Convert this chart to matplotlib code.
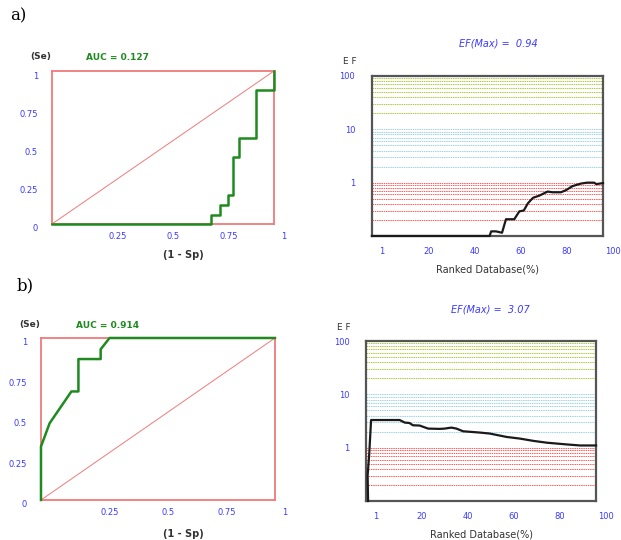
import numpy as np
import matplotlib.pyplot as plt
from matplotlib.transforms import ScaledTranslation

# ROC curve data, panel a
roc_a_x = [0, 0.717, 0.717, 0.755, 0.755, 0.792, 0.792, 0.817, 0.817, 0.842, 0.842, 0.919, 0.919, 1.0, 1.0]
roc_a_y = [0, 0, 0.059, 0.059, 0.126, 0.126, 0.19, 0.19, 0.44, 0.44, 0.565, 0.565, 0.876, 0.876, 1.0]
auc_a = "AUC = 0.127"

# ROC curve data, panel b
roc_b_x = [0, 0, 0.037, 0.13, 0.16, 0.16, 0.255, 0.255, 0.293, 1.0]
roc_b_y = [0, 0.33, 0.474, 0.67, 0.67, 0.87, 0.87, 0.93, 1.0, 1.0]
auc_b = "AUC = 0.914"

# Enrichment factor curves
ef_a_x = [0, 50.9, 51.6, 53.7, 56.3, 58.0, 61.6, 63.8, 65.7, 67.5, 69.7, 72.4, 76.0, 78.2, 81.8,
          83.9, 86.8, 90.4, 93.2, 96.1, 97.1, 100]
ef_a_y = [0.1, 0.1, 0.122, 0.122, 0.115, 0.206, 0.206, 0.29, 0.30, 0.41, 0.52, 0.57, 0.68, 0.66, 0.66,
          0.72, 0.86, 0.96, 1.0, 1.0, 0.94, 0.98]
ef_a_max = "EF(Max) =  0.94"

ef_b_x = [0.9, 0.7, 1.4, 2.2, 14.6, 16.8, 18.9, 20.4, 23.3, 27.0, 32.1, 34.2, 37.1, 39.3, 42.2,
          49.5, 53.8, 61.1, 66.9, 72.8, 78.6, 87.3, 93.1, 100]
ef_b_y = [0.1, 0.30, 0.77, 3.3, 3.3, 2.96, 2.9, 2.63, 2.6, 2.28, 2.25, 2.28, 2.38, 2.28, 2.03,
          1.92, 1.84, 1.59, 1.48, 1.34, 1.24, 1.15, 1.1, 1.1]
ef_b_max = "EF(Max) =  3.07"

roc_ticks = [0.25, 0.5, 0.75, 1]
roc_tick_labels = ["0.25", "0.5", "0.75", "1"]
roc_yticks = [0, 0.25, 0.5, 0.75, 1]
roc_ytick_labels = ["0", "0.25", "0.5", "0.75", "1"]
ef_xticks = [0, 20, 40, 60, 80, 100]
ef_xtick_labels = ["1", "20", "40", "60", "80", "100"]
ef_yticks = [1, 10, 100]
ef_ytick_labels = ["1", "10", "100"]
red_levels = [0.2, 0.3, 0.4, 0.5, 0.6, 0.7, 0.8, 0.9, 1.0]
blue_levels = [2, 3, 4, 5, 6, 7, 8, 9, 10]
green_levels = [20, 30, 40, 50, 60, 70, 80, 90, 100]

tick_blue = '#3a3aff'
roc_red = '#f07a7a'
curve_green = '#1f8a1f'

fig = plt.figure(figsize=(6.21, 5.4), dpi=100)


def roc_panel(rect, xs, ys):
    ax = fig.add_axes(rect)
    ax.plot([0, 1], [0, 1], color=roc_red, lw=0.7)
    ax.plot(xs, ys, color=curve_green, lw=1.8, clip_on=False, zorder=5)
    ax.set_xlim(0, 1)
    ax.set_ylim(0, 1)
    for s in ax.spines.values():
        s.set_color(roc_red)
        s.set_linewidth(1.3)
    ax.set_xticks(roc_ticks)
    ax.set_xticklabels(roc_tick_labels)
    ax.set_yticks(roc_yticks)
    ax.set_yticklabels(roc_ytick_labels)
    ax.tick_params(length=0, labelsize=6, labelcolor=tick_blue)
    ax.tick_params(axis='y', pad=10)
    ax.tick_params(axis='x', pad=6)
    # labels sit a little off their ticks, like the original export
    for lab in ax.get_xticklabels():
        lab.set_transform(lab.get_transform() + ScaledTranslation(10 / 100, 0, fig.dpi_scale_trans))
    for lab in ax.get_yticklabels():
        lab.set_transform(lab.get_transform() + ScaledTranslation(0, -4 / 100, fig.dpi_scale_trans))
    return ax


def ef_panel(rect, xs, ys):
    ax = fig.add_axes(rect)
    ax.set_yscale('log')
    for lv in red_levels:
        ax.axhline(lv, color='#ff3030', lw=0.7, ls=(0, (1.5, 0.8)), alpha=0.8)
    for lv in blue_levels:
        ax.axhline(lv, color='#9cd4ea', lw=0.7, ls=(0, (1.5, 0.8)))
    for lv in green_levels:
        ax.axhline(lv, color='#a8cf3a', lw=0.7, ls=(0, (1.5, 0.8)))
    ax.plot(xs, ys, color='#1a1a1a', lw=1.6, clip_on=False, zorder=5)
    ax.set_xlim(0, 100)
    ax.set_ylim(0.1, 100)
    for s in ax.spines.values():
        s.set_color('#555555')
        s.set_linewidth(1.6)
    ax.set_xticks(ef_xticks)
    ax.set_xticklabels(ef_xtick_labels)
    ax.set_yticks(ef_yticks)
    ax.set_yticklabels(ef_ytick_labels)
    ax.minorticks_off()
    ax.tick_params(length=0, labelsize=6, labelcolor=tick_blue)
    ax.tick_params(axis='y', pad=12)
    ax.tick_params(axis='x', pad=8)
    for lab in ax.get_xticklabels():
        lab.set_transform(lab.get_transform() + ScaledTranslation(10 / 100, 0, fig.dpi_scale_trans))
    ax.set_xlabel("Ranked Database(%)", fontsize=7, color='#333333', labelpad=6)
    return ax


# panel a
roc_panel([0.0837, 0.5852, 0.3575, 0.2833], roc_a_x, roc_a_y)
ef_panel([0.599, 0.563, 0.372, 0.2963], ef_a_x, ef_a_y)

# panel b
roc_panel([0.066, 0.0741, 0.3768, 0.300], roc_b_x, roc_b_y)
ef_panel([0.5894, 0.0722, 0.3704, 0.2963], ef_b_x, ef_b_y)

# free texts
fig.text(10 / 621, 1 - 16 / 540, "a)", fontsize=12, family='DejaVu Serif', va='center')
fig.text(17 / 621, 1 - 286 / 540, "b)", fontsize=12, family='DejaVu Serif', va='center')

fig.text(41 / 621, 1 - 57 / 540, "(Se)", fontsize=6.5, weight='bold', color='#333333', ha='center', va='center')
fig.text(86 / 621, 1 - 57 / 540, auc_a, fontsize=6.5, weight='bold', color=curve_green, va='center')
fig.text(183 / 621, 1 - 255 / 540, "(1 - Sp)", fontsize=7, weight='bold', color='#333333', ha='center', va='center')

fig.text(30 / 621, 1 - 325 / 540, "(Se)", fontsize=6.5, weight='bold', color='#333333', ha='center', va='center')
fig.text(76 / 621, 1 - 325 / 540, auc_b, fontsize=6.5, weight='bold', color=curve_green, va='center')
fig.text(183 / 621, 1 - 534 / 540, "(1 - Sp)", fontsize=7, weight='bold', color='#333333', ha='center', va='center')

fig.text(498 / 621, 1 - 44 / 540, ef_a_max, fontsize=7, style='italic', color=tick_blue, ha='center', va='center')
fig.text(350 / 621, 1 - 62 / 540, "E F", fontsize=6.5, color='#333333', ha='center', va='center')
fig.text(490 / 621, 1 - 309 / 540, ef_b_max, fontsize=7, style='italic', color=tick_blue, ha='center', va='center')
fig.text(344 / 621, 1 - 328 / 540, "E F", fontsize=6.5, color='#333333', ha='center', va='center')

fig.savefig("out.png", dpi=100)
